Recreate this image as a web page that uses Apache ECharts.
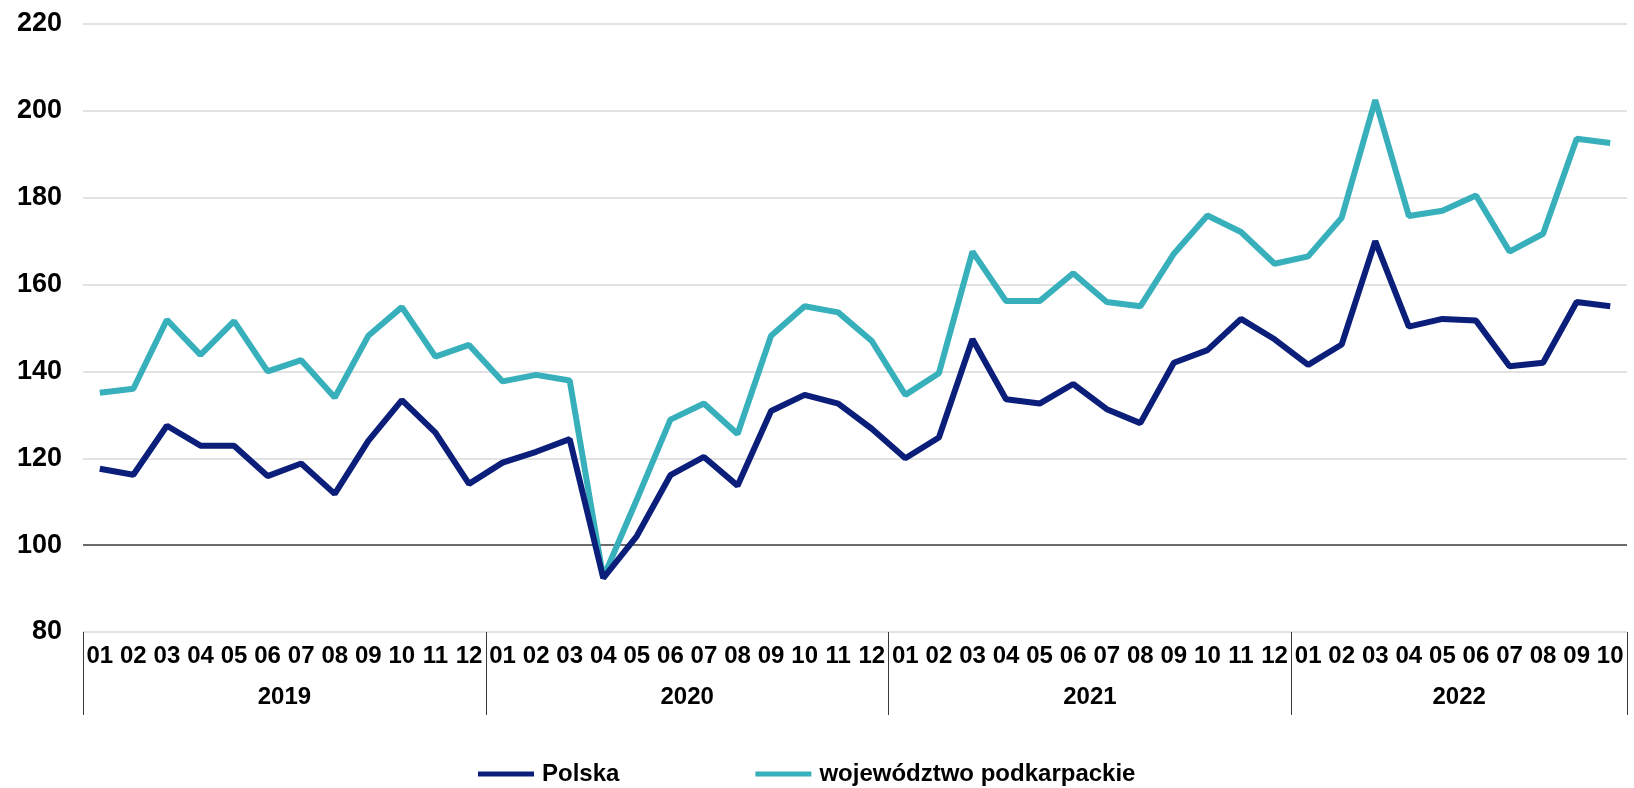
<!DOCTYPE html>
<html>
<head>
<meta charset="utf-8">
<script src="https://cdn.jsdelivr.net/npm/echarts@6/dist/echarts.min.js"></script>
<style>
  html, body { margin: 0; padding: 0; background: #ffffff; }
  #chart { width: 1634px; height: 788px; }
</style>
</head>
<body>
<div id="chart"></div>
<script>
// Monthly periods, 2019-01 .. 2022-10
const periods = [
  '2019-01','2019-02','2019-03','2019-04','2019-05','2019-06','2019-07','2019-08','2019-09','2019-10','2019-11','2019-12',
  '2020-01','2020-02','2020-03','2020-04','2020-05','2020-06','2020-07','2020-08','2020-09','2020-10','2020-11','2020-12',
  '2021-01','2021-02','2021-03','2021-04','2021-05','2021-06','2021-07','2021-08','2021-09','2021-10','2021-11','2021-12',
  '2022-01','2022-02','2022-03','2022-04','2022-05','2022-06','2022-07','2022-08','2022-09','2022-10'
];

const seriesNames = ['Polska', 'województwo podkarpackie'];

const polska = [
  117.6, 116.2, 127.5, 122.9, 122.9, 115.9, 118.8, 111.8, 124.0, 133.4, 125.9, 114.1,
  119.0, 121.5, 124.4, 92.4, 102.1, 116.1, 120.3, 113.7, 130.9, 134.6, 132.6, 126.8,
  120.0, 124.8, 147.4, 133.6, 132.6, 137.1, 131.3, 128.1, 142.0, 144.9, 152.1, 147.4,
  141.5, 146.2, 170.0, 150.3, 152.1, 151.7, 141.2, 142.0, 156.0, 155.0
];

const podkarpackie = [
  135.1, 136.0, 151.9, 143.8, 151.6, 140.0, 142.6, 134.0, 148.2, 154.8, 143.4, 146.1,
  137.7, 139.2, 137.9, 92.5, 110.5, 128.9, 132.6, 125.6, 148.2, 155.0, 153.6, 147.0,
  134.6, 139.6, 167.6, 156.2, 156.2, 162.6, 156.0, 155.0, 167.1, 175.9, 172.1, 164.8,
  166.5, 175.4, 202.5, 175.8, 177.0, 180.5, 167.6, 171.7, 193.6, 192.6
];

const yTicks = { min: 80, max: 220, step: 20 };

// Month labels and year groups derived from the periods
const monthLabels = periods.map(p => p.split('-')[1]);
const years = [...new Set(periods.map(p => p.split('-')[0]))];
const yearBounds = [];   // index where each year starts, plus the end
const yearCenters = [];  // middle of each year span
years.forEach(y => {
  const first = periods.findIndex(p => p.startsWith(y));
  const count = periods.filter(p => p.startsWith(y)).length;
  yearBounds.push(first);
  yearCenters.push(first + count / 2);
});
yearBounds.push(periods.length);

const FONT = '"Liberation Sans", Arial, sans-serif';
const NAVY = '#0b1f7a';
const TEAL = '#37b0bb';

// Gridline colours: the 100 line is drawn dark, others light grey
const gridColors = [];
for (let v = yTicks.min; v <= yTicks.max; v += yTicks.step) {
  gridColors.push(v === 100 ? '#3a3a3a' : '#d9d9d9');
}

const chart = echarts.init(document.getElementById('chart'));
chart.setOption({
  animation: false,
  backgroundColor: '#ffffff',
  grid: { left: 83, right: 7, top: 24, bottom: 156, containLabel: false },
  legend: {
    left: 473,
    top: 757,
    itemWidth: 56,
    itemHeight: 5,
    itemGap: 136,
    icon: 'rect',
    textStyle: { fontFamily: FONT, fontWeight: 'bold', fontSize: 24, color: '#000000', padding: [0, 0, 0, 3] },
    data: seriesNames
  },
  xAxis: [
    {
      type: 'category',
      data: monthLabels,
      position: 'bottom',
      boundaryGap: true,
      axisLine: { show: false },
      axisTick: { show: false },
      axisLabel: {
        interval: 0,
        margin: 12,
        fontFamily: FONT,
        fontWeight: 'bold',
        fontSize: 24,
        color: '#000000'
      },
      splitLine: { show: false }
    },
    {
      type: 'value',
      min: 0,
      max: periods.length,
      position: 'bottom',
      axisLine: { show: false },
      splitLine: { show: false },
      axisTick: {
        show: true,
        customValues: yearBounds,
        length: 83,
        lineStyle: { color: '#3a3a3a', width: 1 }
      },
      axisLabel: {
        customValues: yearCenters,
        margin: 53,
        fontFamily: FONT,
        fontWeight: 'bold',
        fontSize: 24,
        color: '#000000',
        formatter: v => years[yearCenters.indexOf(v)] || ''
      }
    }
  ],
  yAxis: {
    type: 'value',
    min: yTicks.min,
    max: yTicks.max,
    interval: yTicks.step,
    axisLine: { show: false },
    axisTick: { show: false },
    axisLabel: {
      margin: 21,
      fontFamily: FONT,
      fontWeight: 'bold',
      fontSize: 27,
      color: '#000000'
    },
    splitLine: { show: true, lineStyle: { color: gridColors, width: 1.5 } }
  },
  series: [
    {
      name: seriesNames[0],
      type: 'line',
      data: polska,
      xAxisIndex: 0,
      symbol: 'none',
      lineStyle: { color: NAVY, width: 6 },
      itemStyle: { color: NAVY },
      z: 3
    },
    {
      name: seriesNames[1],
      type: 'line',
      data: podkarpackie,
      xAxisIndex: 0,
      symbol: 'none',
      lineStyle: { color: TEAL, width: 6 },
      itemStyle: { color: TEAL },
      z: 2
    }
  ]
});
</script>
</body>
</html>
